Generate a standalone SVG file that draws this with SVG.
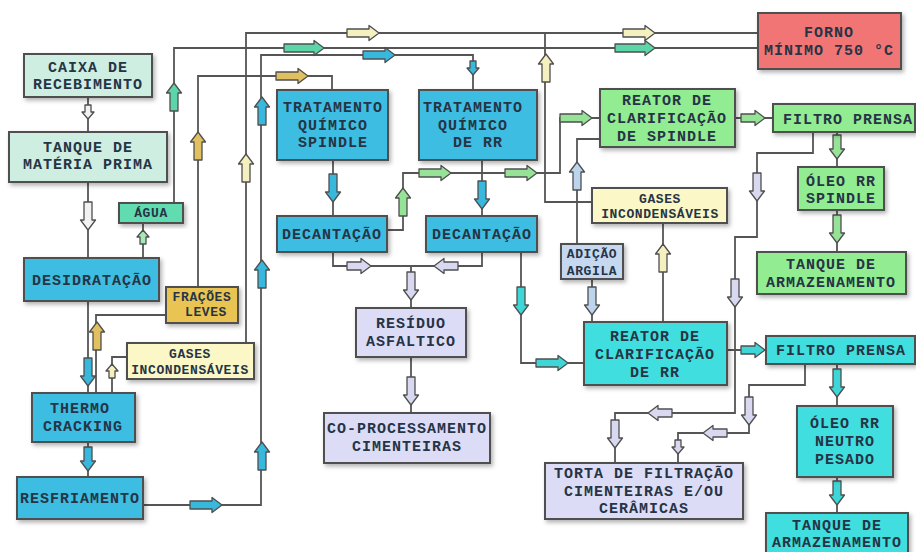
<svg xmlns="http://www.w3.org/2000/svg" xmlns:xlink="http://www.w3.org/1999/xlink" width="916" height="552" viewBox="0 0 916 552">
<style>
.bx{stroke:#4f4f4f;stroke-width:2;filter:url(#sh)}
.t{font-family:"Liberation Mono","DejaVu Sans Mono",monospace;font-weight:bold;font-size:15px;letter-spacing:1px;fill:#263445;text-anchor:middle}
.s{font-size:13px;letter-spacing:0.6px}
.ln{fill:none;stroke:#555;stroke-width:1.8}
.ar{stroke:#4f4f4f;stroke-width:1.3;stroke-linejoin:round}
.mint{fill:#cdeee0}.blue{fill:#3cbde2}.cyan{fill:#40dede}.grn{fill:#92ec92}.lav{fill:#dcdcf6}
.pyel{fill:#fbf7c6}.gold{fill:#e9c453}.agua{fill:#60dcb0}.red{fill:#f27474}.lblue{fill:#c6d8f0}
.aw{fill:#f2f2f2}.am{fill:#5cd6a8}.alg{fill:#a8e8b4}.apy{fill:#f4f0c0}.agd{fill:#e0c060}.abl{fill:#38b8dc}
.agr{fill:#96e296}.alv{fill:#d8d8f0}.acy{fill:#3ed6d6}.alb{fill:#bcd4ec}
</style>
<defs>
<filter id="sh" x="-10%" y="-10%" width="130%" height="140%"><feDropShadow dx="2" dy="2.5" stdDeviation="2" flood-color="#000" flood-opacity="0.3"/></filter>
<path id="a14" d="M-7,-3 H0 V-6 L7,0 L0,6 V3 H-7 Z"/>
<path id="a24" d="M-12,-4 H2 V-7.5 L12,0 L2,7.5 V4 H-12 Z"/>
<path id="a28" d="M-14,-4 H4 V-7.5 L14,0 L4,7.5 V4 H-14 Z"/>
<path id="a32" d="M-16,-4 H6 V-7.5 L16,0 L6,7.5 V4 H-16 Z"/>
<path id="a40" d="M-20,-4 H10 V-7.5 L20,0 L10,7.5 V4 H-20 Z"/>
</defs>
<rect width="916" height="552" fill="#fff"/>
<g id="connectors">
<path class="ln" d="M88,97 V132"/>
<path class="ln" d="M88,182 V258"/>
<path class="ln" d="M143,258 V223"/>
<path class="ln" d="M174,203 V48 H758"/>
<path class="ln" d="M246,343 V33 H758"/>
<path class="ln" d="M592,202 H545 V33"/>
<path class="ln" d="M143,505 H261 V55 H473 V90"/>
<path class="ln" d="M198,287 V76 H332 V90"/>
<path class="ln" d="M96,393 V315 H166"/>
<path class="ln" d="M112,393 V357 H127"/>
<path class="ln" d="M88,301 V393"/>
<path class="ln" d="M88,442 V477"/>
<path class="ln" d="M333,160 V216"/>
<path class="ln" d="M387,230 H403 V173 H560 V118 H600"/>
<path class="ln" d="M482,160 V216"/>
<path class="ln" d="M333,252 V266 H482 V252 M411,266 V308"/>
<path class="ln" d="M411,357 V413"/>
<path class="ln" d="M521,252 V363 H584"/>
<path class="ln" d="M592,279 V322"/>
<path class="ln" d="M577,244 V139 H600"/>
<path class="ln" d="M663,322 V223"/>
<path class="ln" d="M735,118 H773"/>
<path class="ln" d="M837,132 V167"/>
<path class="ln" d="M837,210 V252"/>
<path class="ln" d="M813,132 V153 H757 V237 H735 V413 H615 V463"/>
<path class="ln" d="M727,350 H766"/>
<path class="ln" d="M805,364 V385 H749 V433 H678 V463"/>
<path class="ln" d="M837,364 V406"/>
<path class="ln" d="M837,477 V513"/>
<use href="#a14" class="ar aw" transform="translate(88,112) rotate(90)"/>
<use href="#a28" class="ar aw" transform="translate(88,216) rotate(90)"/>
<use href="#a14" class="ar alg" transform="translate(143,237) rotate(-90)"/>
<use href="#a28" class="ar am" transform="translate(174,97) rotate(-90)"/>
<use href="#a40" class="ar am" transform="translate(304,48)"/>
<use href="#a40" class="ar am" transform="translate(635,48)"/>
<use href="#a32" class="ar apy" transform="translate(363,33)"/>
<use href="#a32" class="ar apy" transform="translate(639,33)"/>
<use href="#a28" class="ar apy" transform="translate(246,168) rotate(-90)"/>
<use href="#a28" class="ar apy" transform="translate(546,68) rotate(-90)"/>
<use href="#a28" class="ar agd" transform="translate(198,146) rotate(-90)"/>
<use href="#a32" class="ar agd" transform="translate(292,76)"/>
<use href="#a28" class="ar agd" transform="translate(97,336) rotate(-90)"/>
<use href="#a14" class="ar apy" transform="translate(112,371) rotate(-90)"/>
<use href="#a28" class="ar abl" transform="translate(262,111) rotate(-90)"/>
<use href="#a28" class="ar abl" transform="translate(262,274) rotate(-90)"/>
<use href="#a28" class="ar abl" transform="translate(262,456) rotate(-90)"/>
<use href="#a32" class="ar abl" transform="translate(206,505)"/>
<use href="#a32" class="ar abl" transform="translate(379,55)"/>
<use href="#a14" class="ar abl" transform="translate(473,68) rotate(90)"/>
<use href="#a28" class="ar abl" transform="translate(88,372) rotate(90)"/>
<use href="#a24" class="ar abl" transform="translate(88,459) rotate(90)"/>
<use href="#a28" class="ar abl" transform="translate(333,188) rotate(90)"/>
<use href="#a28" class="ar abl" transform="translate(482,195) rotate(90)"/>
<use href="#a28" class="ar agr" transform="translate(403,202) rotate(-90)"/>
<use href="#a32" class="ar agr" transform="translate(435,173)"/>
<use href="#a32" class="ar agr" transform="translate(521,173)"/>
<use href="#a32" class="ar agr" transform="translate(576,118)"/>
<use href="#a28" class="ar alb" transform="translate(577,176) rotate(-90)"/>
<use href="#a24" class="ar alv" transform="translate(359,266)"/>
<use href="#a24" class="ar alv" transform="translate(446,266) rotate(180)"/>
<use href="#a28" class="ar alv" transform="translate(411,286) rotate(90)"/>
<use href="#a28" class="ar alv" transform="translate(411,391) rotate(90)"/>
<use href="#a28" class="ar acy" transform="translate(521,301) rotate(90)"/>
<use href="#a32" class="ar acy" transform="translate(552,363)"/>
<use href="#a28" class="ar alb" transform="translate(592,301) rotate(90)"/>
<use href="#a28" class="ar apy" transform="translate(663,258) rotate(-90)"/>
<use href="#a24" class="ar agr" transform="translate(753,118)"/>
<use href="#a24" class="ar agr" transform="translate(837,147) rotate(90)"/>
<use href="#a28" class="ar agr" transform="translate(837,229) rotate(90)"/>
<use href="#a28" class="ar alv" transform="translate(757,187) rotate(90)"/>
<use href="#a28" class="ar alv" transform="translate(735,293) rotate(90)"/>
<use href="#a24" class="ar alv" transform="translate(660,413) rotate(180)"/>
<use href="#a28" class="ar alv" transform="translate(615,434) rotate(90)"/>
<use href="#a28" class="ar alv" transform="translate(749,411) rotate(90)"/>
<use href="#a24" class="ar alv" transform="translate(715,433) rotate(180)"/>
<use href="#a14" class="ar alv" transform="translate(678,447) rotate(90)"/>
<use href="#a24" class="ar acy" transform="translate(753,350)"/>
<use href="#a28" class="ar acy" transform="translate(837,383) rotate(90)"/>
<use href="#a24" class="ar acy" transform="translate(837,493) rotate(90)"/>
</g>
<g id="caixa"><rect class="bx mint" x="24" y="54" width="128" height="43"/><text class="t" x="88" y="72">CAIXA DE</text><text class="t" x="88" y="89">RECEBIMENTO</text></g>
<g id="tanque-mp"><rect class="bx mint" x="9" y="132" width="158" height="50"/><text class="t" x="88" y="152">TANQUE DE</text><text class="t" x="88" y="169">MATÉRIA PRIMA</text></g>
<g id="agua"><rect class="bx agua" x="119" y="203" width="64" height="20"/><text class="t s" x="151" y="217">ÁGUA</text></g>
<g id="desidratacao"><rect class="bx blue" x="24" y="258" width="135" height="43"/><text class="t" x="92" y="285">DESIDRATAÇÃO</text></g>
<g id="fracoes"><rect class="bx gold" x="166" y="287" width="72" height="36"/><text class="t s" x="202" y="301">FRAÇÕES</text><text class="t s" x="206" y="316">LEVES</text></g>
<g id="gases-l"><rect class="bx pyel" x="127" y="343" width="127" height="36"/><text class="t s" x="190" y="358">GASES</text><text class="t s" x="190" y="374">INCONDENSÁVEIS</text></g>
<g id="thermo"><rect class="bx blue" x="32" y="393" width="103" height="49"/><text class="t" x="80" y="413">THERMO</text><text class="t" x="83" y="431">CRACKING</text></g>
<g id="resfriamento"><rect class="bx blue" x="17" y="477" width="126" height="42"/><text class="t" x="80" y="503">RESFRIAMENTO</text></g>
<g id="trat-spindle"><rect class="bx blue" x="277" y="90" width="111" height="70"/><text class="t" x="333" y="112">TRATAMENTO</text><text class="t" x="333" y="130">QUÍMICO</text><text class="t" x="333" y="147">SPINDLE</text></g>
<g id="trat-rr"><rect class="bx blue" x="419" y="90" width="118" height="70"/><text class="t" x="473" y="112">TRATAMENTO</text><text class="t" x="473" y="130">QUÍMICO</text><text class="t" x="478" y="147">DE RR</text></g>
<g id="decantacao-l"><rect class="bx blue" x="277" y="216" width="110" height="36"/><text class="t" x="332" y="239">DECANTAÇÃO</text></g>
<g id="decantacao-r"><rect class="bx blue" x="426" y="216" width="111" height="36"/><text class="t" x="482" y="239">DECANTAÇÃO</text></g>
<g id="residuo"><rect class="bx lav" x="356" y="308" width="110" height="49"/><text class="t" x="411" y="328">RESÍDUO</text><text class="t" x="411" y="346">ASFALTICO</text></g>
<g id="coprocessamento"><rect class="bx lav" x="324" y="413" width="166" height="50"/><text class="t" x="407" y="433">CO-PROCESSAMENTO</text><text class="t" x="407" y="451">CIMENTEIRAS</text></g>
<g id="reator-spindle"><rect class="bx grn" x="600" y="89" width="135" height="58"/><text class="t" x="667" y="105">REATOR DE</text><text class="t" x="667" y="123">CLARIFICAÇÃO</text><text class="t" x="667" y="141">DE SPINDLE</text></g>
<g id="filtro-top"><rect class="bx grn" x="773" y="104" width="142" height="28"/><text class="t" x="848" y="124">FILTRO PRENSA</text></g>
<g id="oleo-spindle"><rect class="bx grn" x="798" y="167" width="86" height="43"/><text class="t" x="841" y="186">ÓLEO RR</text><text class="t" x="841" y="203">SPINDLE</text></g>
<g id="tanque-top"><rect class="bx grn" x="757" y="252" width="149" height="42"/><text class="t" x="831" y="269">TANQUE DE</text><text class="t" x="831" y="287">ARMAZENAMENTO</text></g>
<g id="gases-r"><rect class="bx pyel" x="592" y="188" width="135" height="35"/><text class="t s" x="660" y="203">GASES</text><text class="t s" x="660" y="218">INCONDENSÁVEIS</text></g>
<g id="adicao"><rect class="bx lblue" x="561" y="244" width="62" height="35"/><text class="t s" x="592" y="258">ADIÇÃO</text><text class="t s" x="592" y="275">ARGILA</text></g>
<g id="reator-rr"><rect class="bx cyan" x="584" y="322" width="143" height="63"/><text class="t" x="655" y="341">REATOR DE</text><text class="t" x="655" y="359">CLARIFICAÇÃO</text><text class="t" x="655" y="377">DE RR</text></g>
<g id="filtro-bottom"><rect class="bx cyan" x="766" y="336" width="149" height="28"/><text class="t" x="841" y="355">FILTRO PRENSA</text></g>
<g id="oleo-neutro"><rect class="bx cyan" x="797" y="406" width="96" height="71"/><text class="t" x="845" y="428">ÓLEO RR</text><text class="t" x="845" y="446">NEUTRO</text><text class="t" x="845" y="464">PESADO</text></g>
<g id="tanque-bottom"><rect class="bx cyan" x="766" y="513" width="142" height="42"/><text class="t" x="837" y="530">TANQUE DE</text><text class="t" x="837" y="547">ARMAZENAMENTO</text></g>
<g id="torta"><rect class="bx lav" x="545" y="463" width="198" height="56"/><text class="t" x="644" y="478">TORTA DE FILTRAÇÃO</text><text class="t" x="644" y="496">CIMENTEIRAS E/OU</text><text class="t" x="644" y="513">CERÂMICAS</text></g>
<g id="forno"><rect class="bx red" x="758" y="13" width="143" height="56"/><text class="t" x="829" y="37">FORNO</text><text class="t" x="829" y="55">MÍNIMO 750 °C</text></g>
</svg>
